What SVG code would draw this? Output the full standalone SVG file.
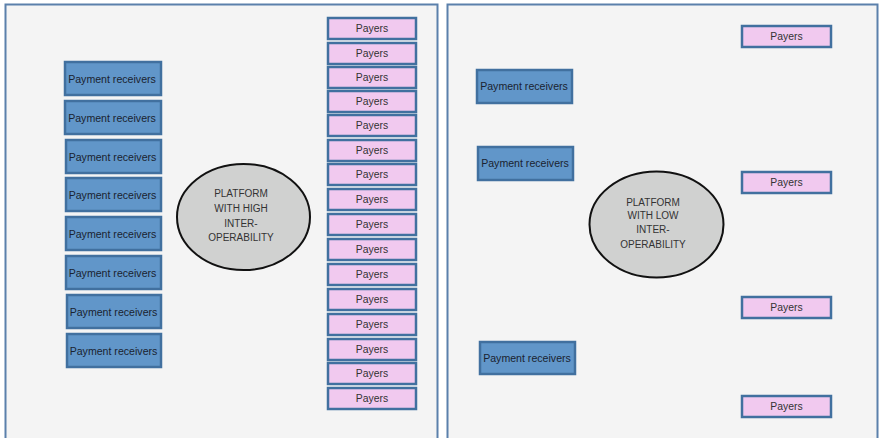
<svg xmlns="http://www.w3.org/2000/svg" width="880" height="438" viewBox="0 0 880 438">
<style>
.panel{fill:#f4f4f4;stroke:#5b80ab;stroke-width:2}
.recv{fill:#6196c9;stroke:#41709f;stroke-width:2.5}
.payer{fill:#f1c9ef;stroke:#41709f;stroke-width:2.5}
.plat{fill:#d0d1d0;stroke:#111;stroke-width:2}
.t{font-family:"Liberation Sans",Arial,sans-serif;font-size:10px;text-anchor:middle;dominant-baseline:central}
.tr{fill:#1a2330;font-size:10.6px}
.tp{fill:#333;font-size:10.4px}
.tc{fill:#333;font-size:10px}
</style>
<rect x="0" y="0" width="880" height="438" fill="#ffffff"/>
<rect class="panel" x="5.5" y="4.5" width="432" height="440"/>
<rect class="panel" x="447.5" y="4.5" width="430" height="440"/>
<g id="connectors"></g>
<g id="left-receivers">
<g id="lr1"><rect class="recv" x="65" y="62" width="96" height="33"/><text class="t tr" x="112" y="78.5">Payment receivers</text></g>
<g id="lr2"><rect class="recv" x="65" y="101" width="96" height="33"/><text class="t tr" x="112" y="117.5">Payment receivers</text></g>
<g id="lr3"><rect class="recv" x="66" y="140" width="95" height="33"/><text class="t tr" x="112.5" y="156.5">Payment receivers</text></g>
<g id="lr4"><rect class="recv" x="66" y="178" width="95" height="33"/><text class="t tr" x="112.5" y="194.5">Payment receivers</text></g>
<g id="lr5"><rect class="recv" x="66" y="217" width="95" height="33"/><text class="t tr" x="112.5" y="233.5">Payment receivers</text></g>
<g id="lr6"><rect class="recv" x="66" y="256" width="95" height="33"/><text class="t tr" x="112.5" y="272.5">Payment receivers</text></g>
<g id="lr7"><rect class="recv" x="67" y="295" width="94" height="33"/><text class="t tr" x="113.5" y="311.5">Payment receivers</text></g>
<g id="lr8"><rect class="recv" x="67" y="334" width="94" height="33"/><text class="t tr" x="113.5" y="350.5">Payment receivers</text></g>
</g>
<g id="left-payers">
<g id="lp1"><rect class="payer" x="328" y="18" width="88" height="21"/><text class="t tp" x="372" y="28.5">Payers</text></g>
<g id="lp2"><rect class="payer" x="328" y="43" width="88" height="21"/><text class="t tp" x="372" y="53.5">Payers</text></g>
<g id="lp3"><rect class="payer" x="328" y="67" width="88" height="21"/><text class="t tp" x="372" y="77.5">Payers</text></g>
<g id="lp4"><rect class="payer" x="328" y="91" width="88" height="21"/><text class="t tp" x="372" y="101.5">Payers</text></g>
<g id="lp5"><rect class="payer" x="328" y="115" width="88" height="21"/><text class="t tp" x="372" y="125.5">Payers</text></g>
<g id="lp6"><rect class="payer" x="328" y="140" width="88" height="21"/><text class="t tp" x="372" y="150.5">Payers</text></g>
<g id="lp7"><rect class="payer" x="328" y="164" width="88" height="21"/><text class="t tp" x="372" y="174.5">Payers</text></g>
<g id="lp8"><rect class="payer" x="328" y="189" width="88" height="21"/><text class="t tp" x="372" y="199.5">Payers</text></g>
<g id="lp9"><rect class="payer" x="328" y="214" width="88" height="21"/><text class="t tp" x="372" y="224.5">Payers</text></g>
<g id="lp10"><rect class="payer" x="328" y="239" width="88" height="21"/><text class="t tp" x="372" y="249.5">Payers</text></g>
<g id="lp11"><rect class="payer" x="328" y="264" width="88" height="21"/><text class="t tp" x="372" y="274.5">Payers</text></g>
<g id="lp12"><rect class="payer" x="328" y="289" width="88" height="21"/><text class="t tp" x="372" y="299.5">Payers</text></g>
<g id="lp13"><rect class="payer" x="328" y="314" width="88" height="21"/><text class="t tp" x="372" y="324.5">Payers</text></g>
<g id="lp14"><rect class="payer" x="328" y="339" width="88" height="21"/><text class="t tp" x="372" y="349.5">Payers</text></g>
<g id="lp15"><rect class="payer" x="328" y="363" width="88" height="21"/><text class="t tp" x="372" y="373.5">Payers</text></g>
<g id="lp16"><rect class="payer" x="328" y="388" width="88" height="21"/><text class="t tp" x="372" y="398.5">Payers</text></g>
</g>
<g id="platform-high">
<ellipse class="plat" cx="243.5" cy="217" rx="66.5" ry="53"/>
<text class="t tc" x="241" y="193">PLATFORM</text>
<text class="t tc" x="241" y="208">WITH HIGH</text>
<text class="t tc" x="241" y="223">INTER-</text>
<text class="t tc" x="241" y="237.5">OPERABILITY</text>
</g>
<g id="right-receivers">
<g id="rr1"><rect class="recv" x="477" y="70" width="95" height="33"/><text class="t tr" x="524" y="86">Payment receivers</text></g>
<g id="rr2"><rect class="recv" x="478" y="147" width="95" height="33"/><text class="t tr" x="525" y="163">Payment receivers</text></g>
<g id="rr3"><rect class="recv" x="480" y="342" width="95" height="32"/><text class="t tr" x="527" y="357.5">Payment receivers</text></g>
</g>
<g id="right-payers">
<g id="rp1"><rect class="payer" x="742" y="26" width="89" height="21"/><text class="t tp" x="786.5" y="36.5">Payers</text></g>
<g id="rp2"><rect class="payer" x="742" y="172" width="89" height="21"/><text class="t tp" x="786.5" y="182.5">Payers</text></g>
<g id="rp3"><rect class="payer" x="742" y="297" width="89" height="21"/><text class="t tp" x="786.5" y="307.5">Payers</text></g>
<g id="rp4"><rect class="payer" x="742" y="396" width="89" height="21"/><text class="t tp" x="786.5" y="406.5">Payers</text></g>
</g>
<g id="platform-low">
<ellipse class="plat" cx="656.5" cy="224.5" rx="67" ry="53"/>
<text class="t tc" x="653" y="202">PLATFORM</text>
<text class="t tc" x="653" y="215.5">WITH LOW</text>
<text class="t tc" x="653" y="229.5">INTER-</text>
<text class="t tc" x="653" y="244">OPERABILITY</text>
</g>
</svg>
